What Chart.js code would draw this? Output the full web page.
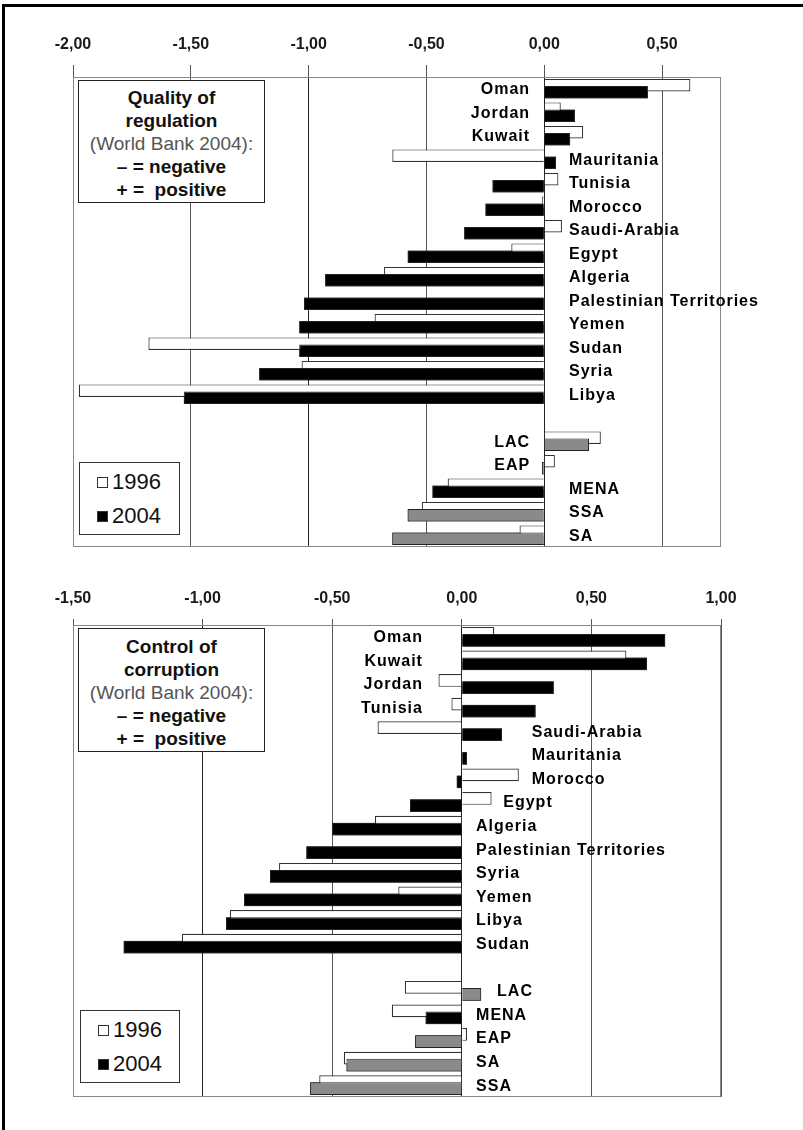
<!DOCTYPE html>
<html>
<head>
<meta charset="utf-8">
<script src="https://cdn.jsdelivr.net/npm/chart.js@4.4.0/dist/chart.umd.min.js"></script>
<style>
  html, body { margin: 0; padding: 0; background: #fff; }
  body { width: 803px; height: 1130px; position: relative; overflow: hidden; font-family: "Liberation Sans", Arial, sans-serif; }
  canvas { position: absolute; left: 0; }
  .edge { position: absolute; left: 2px; top: 4px; right: -10px; bottom: -10px; border-left: 3px solid #000; border-top: 3px solid #000; }
  .note { position: absolute; background: #fff; border: 1.5px solid #222; box-sizing: border-box; text-align: center;
          font-size: 19px; line-height: 23px; color: #111; }
  .note .src { color: #555; font-weight: normal; }
  .legend { position: absolute; background: #fff; border: 1.5px solid #333; box-sizing: border-box; font-size: 22px; color: #111; }
  .legend div { height: 34px; line-height: 34px; padding-left: 17px; }
  .legend span { display: inline-block; width: 9px; height: 9px; margin-right: 4px; border: 1px solid #333; vertical-align: 1px; }
</style>
</head>
<body>
<canvas id="regChart" width="803" height="560" style="top:0"></canvas>
<canvas id="corChart" width="803" height="570" style="top:560px"></canvas>

<div class="note" style="left:78px; top:80px; width:187px; height:123px; padding-top:5px">
  <b>Quality of</b><br><b>regulation</b><br><span class="src">(World Bank 2004):</span><br><b>– = negative</b><br><b>+ =&nbsp; positive</b>
</div>
<div class="legend" id="regLegend" style="left:79px; top:462px; width:101px; height:73px; padding-top:2px"></div>

<div class="note" style="left:78px; top:628px; width:187px; height:124px; padding-top:6px">
  <b>Control of</b><br><b>corruption</b><br><span class="src">(World Bank 2004):</span><br><b>– = negative</b><br><b>+ =&nbsp; positive</b>
</div>
<div class="legend" id="corLegend" style="left:80px; top:1010px; width:100px; height:73px; padding-top:2px"></div>

<div class="edge"></div>

<script>
var years = ['1996', '2004'];
var regions = ['LAC', 'EAP', 'SSA', 'SA'];   // drawn grey in 2004

// Quality of regulation
var regCountries = ['Oman', 'Jordan', 'Kuwait', 'Mauritania', 'Tunisia', 'Morocco', 'Saudi-Arabia', 'Egypt', 'Algeria',
    'Palestinian Territories', 'Yemen', 'Sudan', 'Syria', 'Libya', '', 'LAC', 'EAP', 'MENA', 'SSA', 'SA'];
var reg1996 = [0.62, 0.07, 0.165, -0.645, 0.06, -0.01, 0.075, -0.14, -0.68, null, -0.72, -1.68, -1.03, -1.975, null,
    0.24, 0.045, -0.41, -0.52, -0.105];
var reg2004 = [0.44, 0.13, 0.11, 0.05, -0.22, -0.25, -0.34, -0.58, -0.93, -1.02, -1.04, -1.04, -1.21, -1.53, null,
    0.19, -0.01, -0.475, -0.58, -0.645];
var regTicks = [-2, -1.5, -1, -0.5, 0, 0.5];

// Control of corruption
var corCountries = ['Oman', 'Kuwait', 'Jordan', 'Tunisia', 'Saudi-Arabia', 'Mauritania', 'Morocco', 'Egypt', 'Algeria',
    'Palestinian Territories', 'Syria', 'Yemen', 'Libya', 'Sudan', '', 'LAC', 'MENA', 'EAP', 'SA', 'SSA'];
var cor1996 = [0.125, 0.635, -0.09, -0.04, -0.325, null, 0.22, 0.115, -0.335, null, -0.705, -0.245, -0.895, -1.08, null,
    -0.22, -0.27, 0.02, -0.455, -0.55];
var cor2004 = [0.785, 0.715, 0.355, 0.285, 0.155, 0.02, -0.02, -0.2, -0.5, -0.6, -0.74, -0.84, -0.91, -1.305, null,
    0.075, -0.14, -0.18, -0.445, -0.585];
var corTicks = [-1.5, -1, -0.5, 0, 0.5, 1];

// where the name labels sit (in axis units; negative = right aligned left of zero)
var regLabelAt = [-0.06, -0.06, -0.06, 0.105, 0.105, 0.105, 0.105, 0.105, 0.105, 0.105, 0.105, 0.105, 0.105, 0.105, 0,
    -0.06, -0.06, 0.105, 0.105, 0.105];
var corLabelAt = [-0.15, -0.15, -0.15, -0.15, 0.27, 0.27, 0.27, 0.16, 0.055, 0.055, 0.055, 0.055, 0.055, 0.055, 0,
    0.136, 0.055, 0.055, 0.055, 0.055];

var overlay = {
    id: 'overlay',
    beforeDatasetsDraw: function (chart) {
        var a = chart.chartArea, c = chart.ctx;
        c.save();
        c.strokeStyle = '#888';
        c.lineWidth = 1;
        c.strokeRect(a.left + 0.5, a.top + 0.5, a.right - a.left - 1, a.bottom - a.top - 1);
        c.restore();
    },
    afterDatasetsDraw: function (chart, args, opts) {
        // 2004 bars overlap the 1996 ones, so paint them again on top
        chart.getDatasetMeta(1).controller.draw();
        var c = chart.ctx, x = chart.scales.x, y = chart.scales.y;
        c.save();
        c.font = 'bold 16px "Liberation Sans", Arial, sans-serif';
        c.letterSpacing = '1px';
        c.fillStyle = '#000';
        c.textBaseline = 'middle';
        chart.data.labels.forEach(function (name, i) {
            if (!name) return;
            var at = opts.at[i];
            c.textAlign = at < 0 ? 'right' : 'left';
            c.fillText(name, x.getPixelForValue(at), y.getPixelForValue(i) + 1);
        });
        c.restore();
    }
};

function makeChart(id, cats, d96, d04, ticks, xmin, xmax, labelAt, lay) {
    var ctx = document.getElementById(id).getContext('2d');
    return new Chart(ctx, {
        type: 'bar',
        data: {
            labels: cats,
            datasets: [{
                label: years[0],
                data: d96,
                backgroundColor: '#fff',
                borderColor: '#333',
                borderWidth: 1.2,
                categoryPercentage: 0.6,
                barPercentage: 1.8
            }, {
                label: years[1],
                data: d04,
                backgroundColor: cats.map(function (c) { return regions.indexOf(c) >= 0 ? '#8a8a8a' : '#000'; }),
                borderColor: '#222',
                borderWidth: 1,
                categoryPercentage: 0.6,
                barPercentage: 1.8
            }]
        },
        options: {
            indexAxis: 'y',
            responsive: false,
            animation: false,
            layout: { padding: { top: lay.top, bottom: lay.bottom, left: 73, right: 82 } },
            plugins: {
                legend: { display: false },
                tooltip: { enabled: false },
                overlay: { at: labelAt }
            },
            scales: {
                x: {
                    type: 'linear',
                    position: 'top',
                    min: xmin,
                    max: xmax,
                    afterBuildTicks: function (s) { s.ticks = ticks.map(function (v) { return { value: v }; }); },
                    afterFit: function (s) { s.height = 40; },
                    grid: {
                        color: function (c) { return c.tick && (c.tick.value === 0 || c.tick.value === -1) ? '#222' : '#555'; },
                        tickColor: '#555',
                        tickLength: lay.tick,
                        lineWidth: 1
                    },
                    border: { display: false },
                    ticks: {
                        padding: lay.pad,
                        color: '#1a1a1a',
                        font: { family: '"Liberation Sans Narrow", "Liberation Sans", Arial, sans-serif', size: 16, weight: 'bold' },
                        callback: function (v) { return v.toFixed(2).replace('.', ','); }
                    }
                },
                y: { display: false }
            }
        },
        plugins: [overlay]
    });
}

function makeLegend(id) {
    var box = document.getElementById(id);
    years.forEach(function (y, i) {
        var row = document.createElement('div');
        var sw = document.createElement('span');
        sw.style.background = i === 0 ? '#fff' : '#000';
        row.appendChild(sw);
        row.appendChild(document.createTextNode(y));
        box.appendChild(row);
    });
}

makeChart('regChart', regCountries, reg1996, reg2004, regTicks, -2, 0.75, regLabelAt,
    { top: 37, bottom: 13, tick: 12, pad: 11 });
makeChart('corChart', corCountries, cor1996, cor2004, corTicks, -1.5, 1, corLabelAt,
    { top: 25, bottom: 33, tick: 6, pad: 11 });
makeLegend('regLegend');
makeLegend('corLegend');
</script>
</body>
</html>
